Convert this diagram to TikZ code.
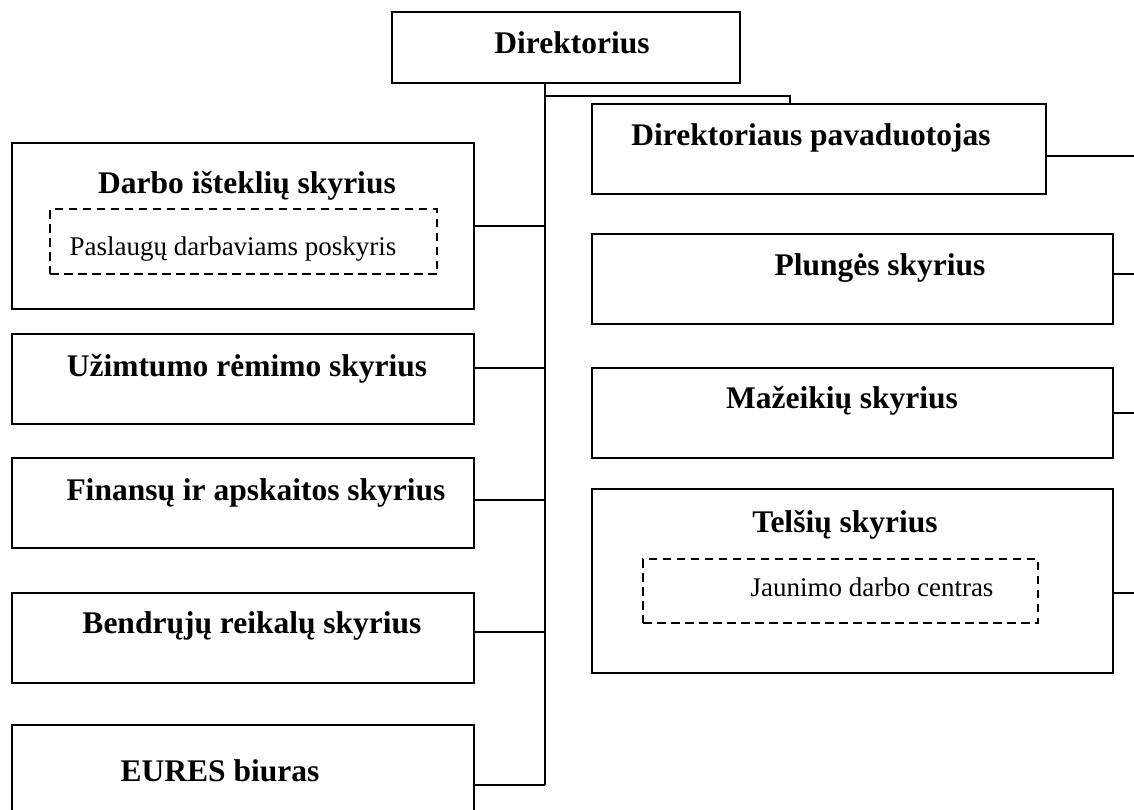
\documentclass[tikz,border=0pt]{standalone}
\usepackage{fontspec}
\setmainfont{Liberation Serif}
\begin{document}
\begin{tikzpicture}[x=1pt,y=-1pt,
  box/.style={draw=black, line width=1.6pt, inner sep=0pt, outer sep=0pt, fill=none},
  dbox/.style={draw=black, line width=1.4pt, dash pattern=on 8.5pt off 5.5pt, inner sep=0pt, outer sep=0pt},
  title/.style={anchor=base, inner sep=0pt, font=\fontsize{31.5}{36}\selectfont\bfseries},
  sub/.style={anchor=base, inner sep=0pt, font=\fontsize{27}{32}\selectfont},
  conn/.style={draw=black, line width=1.6pt}]
\useasboundingbox (0,0) rectangle (1134,809);
\fill[white] (0,0) rectangle (1134,809);

% boxes
\node[box, minimum width=348pt, minimum height=71pt] (dir) at (566,47.5) {};
\node[box, minimum width=454pt, minimum height=90pt] (dp) at (819,149) {};
\node[box, minimum width=521pt, minimum height=90pt] (plu) at (852.5,279) {};
\node[box, minimum width=521pt, minimum height=90pt] (maz) at (852.5,413) {};
\node[box, minimum width=521pt, minimum height=184pt] (tel) at (852.5,581) {};
\node[dbox, minimum width=395pt, minimum height=64pt] (jdc) at (840.5,591) {};
\node[box, minimum width=462pt, minimum height=166pt] (darbo) at (243,226) {};
\node[dbox, minimum width=387pt, minimum height=65pt] (pdp) at (243.5,241.5) {};
\node[box, minimum width=462pt, minimum height=90pt] (uzim) at (243,379) {};
\node[box, minimum width=462pt, minimum height=90pt] (fin) at (243,503) {};
\node[box, minimum width=462pt, minimum height=90pt] (bend) at (243,638) {};
\node[box, minimum width=462pt, minimum height=120pt] (eures) at (243,785) {};

% texts
\node[title] (tdir) at (572,53) {Direktorius};
\node[title] (tdp) at (811,145) {Direktoriaus pavaduotojas};
\node[title] (tplu) at (880,275) {Plungės skyrius};
\node[title] (tmaz) at (842,408) {Mažeikių skyrius};
\node[title] (ttel) at (845,532) {Telšių skyrius};
\node[sub] (tjdc) at (872,596) {Jaunimo darbo centras};
\node[title] (tdarbo) at (247,193) {Darbo išteklių skyrius};
\node[sub] (tpdp) at (233,255) {Paslaugų darbaviams poskyris};
\node[title] (tuzim) at (247,376) {Užimtumo rėmimo skyrius};
\node[title] (tfin) at (256,500) {Finansų ir apskaitos skyrius};
\node[title] (tbend) at (252,633) {Bendrųjų reikalų skyrius};
\node[title] (teures) at (220,781) {EURES biuras};

% connector helpers
\coordinate (tk) at (545,785);
\coordinate (br) at (790,96);
\coordinate (redge) at (1134,0);

% trunk
\draw[conn] (dir.south -| tk) -- (tk);
\draw[conn] (br -| tk) -- (br) -- (br |- dp.north);

% left branches
\draw[conn] (darbo.east) -- (darbo.east -| tk);
\draw[conn] ([yshift=11pt]uzim.east) -- ([yshift=11pt]uzim.east -| tk);
\draw[conn] ([yshift=3pt]fin.east) -- ([yshift=3pt]fin.east -| tk);
\draw[conn] ([yshift=6pt]bend.east) -- ([yshift=6pt]bend.east -| tk);
\draw[conn] (eures.east) -- (tk);

% right branches
\draw[conn] ([yshift=-7pt]dp.east) -- ([yshift=-7pt]dp.east -| redge);
\draw[conn] ([yshift=5pt]plu.east) -- ([yshift=5pt]plu.east -| redge);
\draw[conn] (maz.east) -- (maz.east -| redge);
\draw[conn] ([yshift=-12pt]tel.east) -- ([yshift=-12pt]tel.east -| redge);
\end{tikzpicture}
\end{document}
